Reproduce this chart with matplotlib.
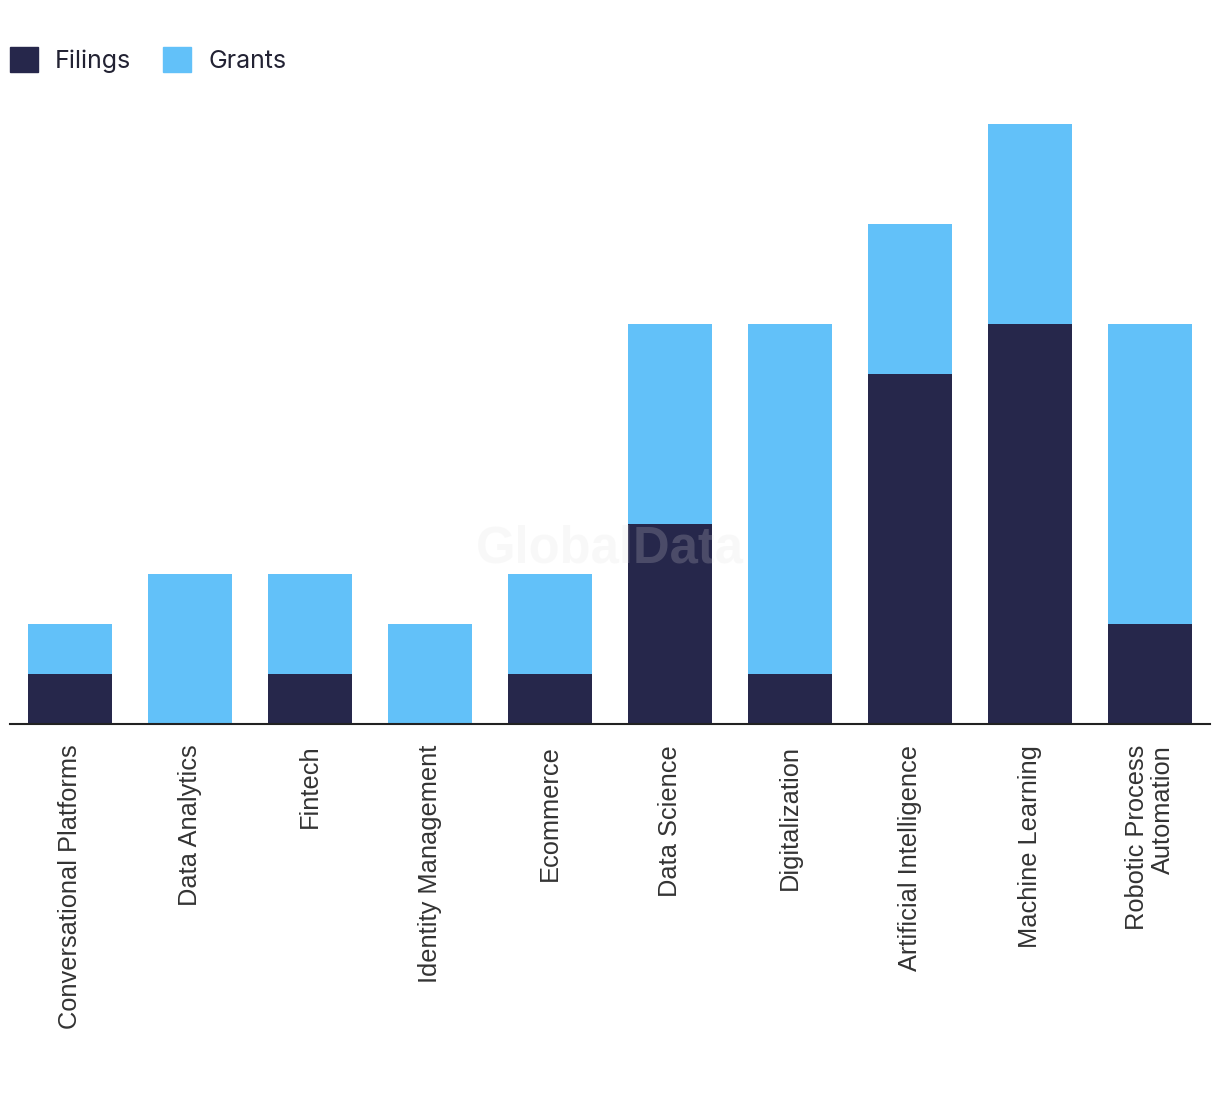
import numpy as np
import matplotlib.pyplot as plt
from matplotlib.patches import Patch

categories = ['Conversational Platforms', 'Data Analytics', 'Fintech',
              'Identity Management', 'Ecommerce', 'Data Science',
              'Digitalization', 'Artificial Intelligence', 'Machine Learning',
              'Robotic Process\nAutomation']
filings = [1, 0, 1, 0, 1, 4, 1, 7, 8, 2]
grants = [1, 3, 2, 2, 2, 4, 7, 3, 4, 6]

navy = '#26274b'
blue = '#62c1f9'

fig = plt.figure(figsize=(12.2, 10.94), dpi=100)
ax = fig.add_axes([10 / 1220, 1 - 724 / 1094, 1200 / 1220, 624 / 1094])

x = np.arange(len(categories))
ax.bar(x, filings, width=0.7, color=navy, label='Filings')
ax.bar(x, grants, width=0.7, bottom=filings, color=blue, label='Grants')

ax.set_xlim(-0.5, len(categories) - 0.5)
ax.set_ylim(0, 12.48)
ax.set_yticks([])
for s in ['top', 'right', 'left']:
    ax.spines[s].set_visible(False)
ax.spines['bottom'].set_color('#222222')
ax.spines['bottom'].set_linewidth(1.5)
ax.set_xticks(x)
ax.set_xticklabels(categories, rotation=90, va='top', ha='center',
                   family='Liberation Sans', fontsize=18.3, color='#333333',
                   linespacing=1.15, multialignment='right')
ax.tick_params(axis='x', length=0, pad=15)

# watermark
ax.text(0.5, 0.28, 'GlobalData', transform=ax.transAxes, ha='center', va='center',
        fontsize=36.5, fontweight='bold', family='Liberation Sans',
        color='#e0e0e0', alpha=0.2, zorder=5)

handles = [Patch(color=navy), Patch(color=blue)]
fig.legend(handles, ['Filings', 'Grants'], loc='upper left',
           bbox_to_anchor=(0.0, 0.966), ncol=2, frameon=False,
           prop={'family': 'Inter', 'size': 18}, labelcolor='#222233',
           handlelength=1.12, handleheight=1.12, handletextpad=0.68,
           columnspacing=1.28, borderaxespad=0)

fig.savefig('out.png', dpi=100)
